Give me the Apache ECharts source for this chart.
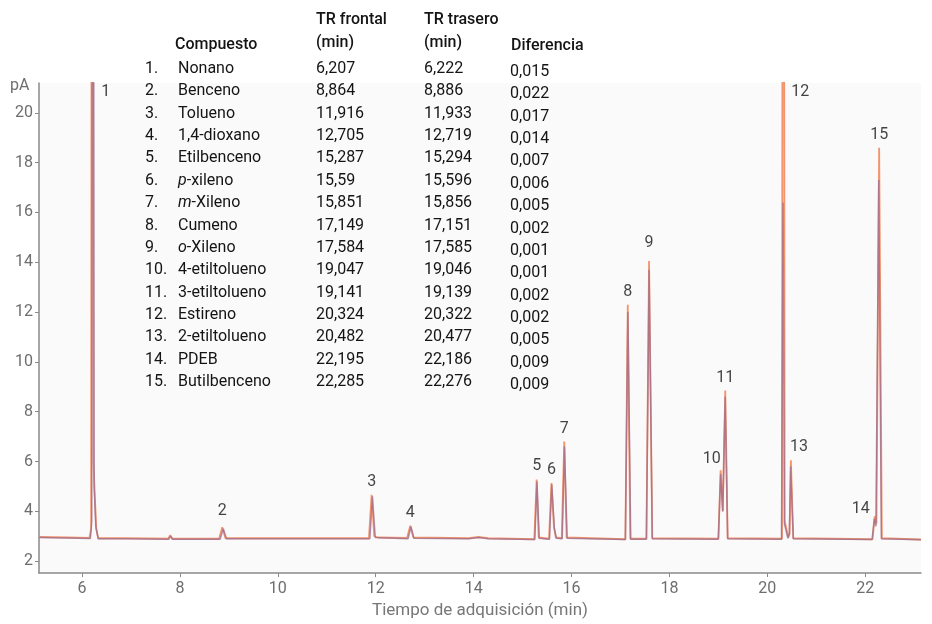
<!DOCTYPE html>
<html>
<head>
<meta charset="utf-8">
<script src="https://cdn.jsdelivr.net/npm/echarts@6/dist/echarts.min.js"></script>
<style>
  html, body { margin: 0; padding: 0; background: #fff; }
  #chart { width: 932px; height: 624px; }
</style>
</head>
<body>
<div id="chart"></div>
<script>
// Compound list and retention times (front / back detector)
const compounds = ['Nonano', 'Benceno', 'Tolueno', '1,4-dioxano', 'Etilbenceno', 'p-xileno', 'm-Xileno',
  'Cumeno', 'o-Xileno', '4-etiltolueno', '3-etiltolueno', 'Estireno', '2-etiltolueno', 'PDEB', 'Butilbenceno'];
const rtFront = [6.207, 8.864, 11.916, 12.705, 15.287, 15.59, 15.851, 17.149, 17.584, 19.047, 19.141, 20.324, 20.482, 22.195, 22.285];
const rtBack = [6.222, 8.886, 11.933, 12.719, 15.294, 15.596, 15.856, 17.151, 17.585, 19.046, 19.139, 20.322, 20.477, 22.186, 22.276];
const rtDiff = [0.015, 0.022, 0.017, 0.014, 0.007, 0.006, 0.005, 0.002, 0.001, 0.001, 0.002, 0.002, 0.005, 0.009, 0.009];

// Apex heights of the front signal (pA); 1 and 12 run off scale
const peakHeight = [60, 3.36, 4.66, 3.42, 5.28, 5.14, 6.8, 12.3, 14.05, 5.65, 8.85, 60, 6.05, 3.8, 18.6];

// Axis ticks
const xTicks = [6, 8, 10, 12, 14, 16, 18, 20, 22];
const yTicks = [2, 4, 6, 8, 10, 12, 14, 16, 18, 20];

// Front detector trace [min, pA]
const frontTrace = [
  [5.12, 2.97], [5.7, 2.95], [6.15, 2.93], [6.185, 3.3], [6.207, 60], [6.232, 6.0], [6.26, 4.64], [6.29, 3.3], [6.33, 2.92],
  [6.80, 2.92], [6.84, 3.0], [6.88, 2.92],
  [7.76, 2.90], [7.80, 3.04], [7.84, 2.90],
  [8.80, 2.90], [8.864, 3.36], [8.93, 2.92],
  [11.86, 2.92], [11.916, 4.66], [11.97, 3.0], [12.05, 2.95],
  [12.64, 2.93], [12.705, 3.42], [12.77, 2.95],
  [13.9, 2.92], [14.1, 2.97], [14.3, 2.92],
  [15.24, 2.88], [15.287, 5.28], [15.33, 2.95],
  [15.54, 2.9], [15.59, 5.14], [15.64, 3.4], [15.68, 2.95],
  [15.80, 2.92], [15.851, 6.8], [15.90, 2.95],
  [17.10, 2.88], [17.149, 12.3], [17.20, 2.9],
  [17.53, 2.9], [17.584, 14.05], [17.65, 2.92],
  [19.00, 2.9], [19.047, 5.65], [19.09, 4.0], [19.141, 8.85], [19.19, 2.92],
  [20.30, 2.9], [20.324, 60], [20.355, 3.6], [20.43, 2.95], [20.455, 3.1], [20.482, 6.05], [20.53, 2.92],
  [22.15, 2.88], [22.195, 3.8], [22.23, 3.5], [22.285, 18.6], [22.34, 2.92],
  [23.14, 2.87]
];

// Back detector trace [min, pA]
const backTrace = [
  [5.12, 2.95], [5.7, 2.93], [6.17, 2.91], [6.198, 3.6], [6.222, 60], [6.247, 5.0], [6.28, 3.4], [6.33, 2.9],
  [6.81, 2.9], [6.85, 2.98], [6.89, 2.9],
  [7.77, 2.88], [7.81, 3.0], [7.85, 2.88],
  [8.82, 2.88], [8.886, 3.3], [8.95, 2.9],
  [11.88, 2.9], [11.933, 4.6], [11.99, 2.95],
  [12.66, 2.9], [12.719, 3.38], [12.78, 2.92],
  [13.9, 2.9], [14.1, 2.95], [14.3, 2.9],
  [15.25, 2.87], [15.294, 5.2], [15.34, 2.92],
  [15.55, 2.88], [15.596, 5.08], [15.65, 3.3], [15.69, 2.92],
  [15.81, 2.9], [15.856, 6.6], [15.91, 2.92],
  [17.10, 2.87], [17.151, 12.0], [17.21, 2.88],
  [17.53, 2.88], [17.585, 13.7], [17.65, 2.9],
  [19.00, 2.88], [19.046, 5.5], [19.09, 4.0], [19.139, 8.6], [19.19, 2.9],
  [20.29, 2.88], [20.322, 16.4], [20.35, 3.5], [20.42, 2.92], [20.45, 3.1], [20.477, 5.8], [20.53, 2.9],
  [22.14, 2.87], [22.186, 3.7], [22.22, 3.4], [22.276, 17.3], [22.33, 2.9],
  [23.14, 2.86]
];

const X_MIN = 5.12, X_MAX = 23.14, Y_MIN = 1.52, Y_MAX = 21.2;
const FONT = 'Roboto, "Noto Sans", sans-serif';
const INK = '#141414';
const AXIS_GREY = '#8a8a8a';
const LABEL_GREY = '#6e6e6e';

const fmt = v => String(v).replace('.', ',');

// Peak number label placement tweaks
const labelTweak = {
  1: { position: 'right', distance: 9 },
  12: { position: 'right', distance: 8 },
  2: { offset: [0, -3] },
  9: { offset: [0, -5] },
  10: { offset: [-9, 2] },
  13: { offset: [8, 0] },
  14: { offset: [-14, 6] }
};

const peakLabels = rtFront.map((rt, i) => {
  const n = i + 1;
  const t = labelTweak[n] || {};
  const y = Math.min(peakHeight[i], 20.85);
  return {
    value: [rt, y],
    label: Object.assign({ show: true, position: 'top', distance: 5, formatter: String(n),
      color: INK, fontSize: 16, fontFamily: FONT }, t)
  };
});

// Composition table drawn as text
const tableEls = [];
const rowY0 = 69, rowStep = 22.36;
const colNum = 145, colName = 178, colFront = 316, colBack = 424, colDiff = 510;
function txt(x, y, s, extra) {
  tableEls.push({
    type: 'text', x: x, y: y, z: 100,
    style: Object.assign({
      text: s, fill: INK, font: '16px ' + FONT, verticalAlign: 'middle', align: 'left',
      rich: { i: { fontStyle: 'italic', fontSize: 16, fontFamily: FONT, fill: INK } }
    }, extra || {})
  });
}
const headFont = { font: '500 16px ' + FONT };
txt(175, 45, 'Compuesto', headFont);
txt(colFront, 20, 'TR frontal', headFont);
txt(colFront, 43, '(min)', headFont);
txt(colBack, 20, 'TR trasero', headFont);
txt(colBack, 43, '(min)', headFont);
txt(colDiff + 1, 46, 'Diferencia', headFont);
compounds.forEach((name, i) => {
  const y = rowY0 + i * rowStep;
  const m = /^([pmo])-(.*)$/.exec(name);
  const shown = m ? '{i|' + m[1] + '}-' + m[2] : name;
  txt(colNum, y, (i + 1) + '.');
  txt(colName, y, shown);
  txt(colFront, y, fmt(rtFront[i]));
  txt(colBack, y, fmt(rtBack[i]));
  txt(colDiff, y + 3, fmt(rtDiff[i]));
});

tableEls.push({
  type: 'text', x: 10, y: 86, z: 100,
  style: { text: 'pA', fill: LABEL_GREY, font: '16px ' + FONT, verticalAlign: 'middle' }
});

const chart = echarts.init(document.getElementById('chart'));
chart.setOption({
  backgroundColor: '#ffffff',
  animation: false,
  grid: { left: 39, right: 11, top: 83, bottom: 49, show: true, backgroundColor: '#fafafa', borderWidth: 0 },
  xAxis: {
    type: 'value', min: X_MIN, max: X_MAX,
    name: 'Tiempo de adquisición (min)', nameLocation: 'middle', nameGap: 28,
    nameTextStyle: { color: '#777', fontSize: 17, fontFamily: FONT },
    axisLine: { show: true, lineStyle: { color: AXIS_GREY, width: 1.5 } },
    axisTick: { show: true, length: 4, lineStyle: { color: AXIS_GREY }, customValues: xTicks },
    axisLabel: { color: LABEL_GREY, fontSize: 16, fontFamily: FONT, margin: 8, customValues: xTicks },
    splitLine: { show: false }
  },
  yAxis: {
    type: 'value', min: Y_MIN, max: Y_MAX,
    axisLine: { show: true, lineStyle: { color: AXIS_GREY, width: 1.5 } },
    axisTick: { show: true, length: 4, lineStyle: { color: AXIS_GREY }, customValues: yTicks },
    axisLabel: { color: LABEL_GREY, fontSize: 16, fontFamily: FONT, margin: 6, customValues: yTicks },
    splitLine: { show: false }
  },
  graphic: { elements: tableEls },
  series: [
    {
      name: 'Frontal', type: 'line', data: frontTrace, showSymbol: false, clip: true,
      lineStyle: { color: '#f3946c', width: 1.8 }, z: 2
    },
    {
      name: 'Trasero', type: 'line', data: backTrace, showSymbol: false, clip: true,
      lineStyle: { color: '#9a6c90', width: 1.5, opacity: 0.75 }, z: 3
    },
    {
      name: 'Picos', type: 'scatter', data: peakLabels, symbolSize: 0, silent: true, z: 5
    }
  ]
});
</script>
</body>
</html>
